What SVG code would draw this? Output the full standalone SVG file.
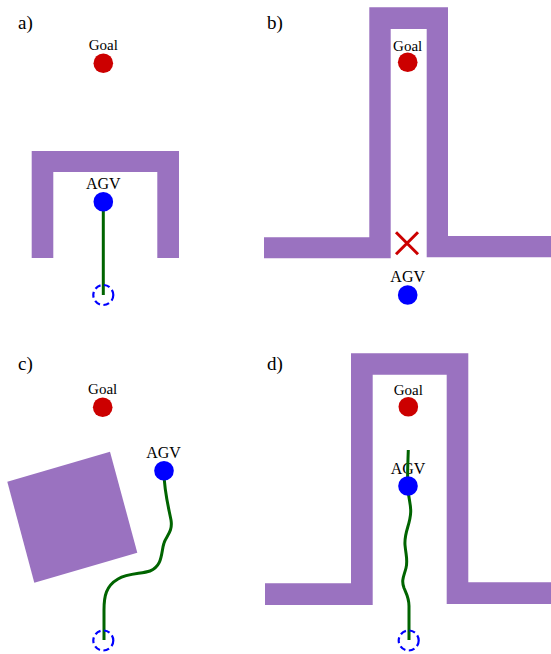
<svg xmlns="http://www.w3.org/2000/svg" width="551" height="654" viewBox="0 0 551 654">
<style>
.wall{fill:#9a72c0;stroke:none}
.goal{fill:#cc0000}
.agv{fill:#0000ff}
.start{fill:none;stroke:#0000ff;stroke-width:2.2;stroke-dasharray:6,3.5}
.path{fill:none;stroke:#006400;stroke-width:3;stroke-linecap:butt}
.lbl{font-family:"Liberation Serif","Times New Roman",serif;fill:#000;text-anchor:middle}
.panel{font-family:"Liberation Serif","Times New Roman",serif;fill:#000;font-size:19px}
.cross{stroke:#cc0000;stroke-width:3;fill:none}
</style>
<rect width="551" height="654" fill="#fff"/>

<!-- Panel a -->
<g id="panel-a">
<text class="panel" x="18" y="29">a)</text>
<polygon id="wall-a" class="wall" points="31.7,151 179,151 179,258 157.3,258 157.3,172 53.3,172 53.3,258 31.7,258"/>
<g id="goal-a"><text class="lbl" x="103.3" y="50" font-size="15">Goal</text><circle class="goal" cx="103.3" cy="63.3" r="9.8"/></g>
<g id="connectors-a"><path class="path" d="M103.3,202 L103.3,295"/></g>
<g id="agv-a"><text class="lbl" x="103.3" y="189" font-size="16">AGV</text><circle class="agv" cx="103.3" cy="201.7" r="9.8"/></g>
<g id="start-a"><circle class="start" cx="103.3" cy="295" r="10"/></g>
</g>

<!-- Panel b -->
<g id="panel-b">
<text class="panel" x="267" y="29">b)</text>
<polygon id="wall-b" class="wall" points="264,237.3 369.3,237.3 369.3,7.3 448,7.3 448,236 551,236 551,257.3 426.7,257.3 426.7,29 390.7,29 390.7,258.3 264,258.3"/>
<g id="goal-b"><text class="lbl" x="407.7" y="50.5" font-size="15">Goal</text><circle class="goal" cx="407.7" cy="62.3" r="9.8"/></g>
<g id="cross-b"><path class="cross" d="M396,232.3 L418,254.3 M418,232.3 L396,254.3"/></g>
<g id="agv-b"><text class="lbl" x="407.7" y="281.7" font-size="16">AGV</text><circle class="agv" cx="407.7" cy="295" r="9.8"/></g>
</g>

<!-- Panel c -->
<g id="panel-c">
<text class="panel" x="18" y="369.5">c)</text>
<polygon id="wall-c" class="wall" points="7.3,481.7 110,451.7 137.3,552.7 34.3,582.7"/>
<g id="goal-c"><text class="lbl" x="102.7" y="394.3" font-size="15">Goal</text><circle class="goal" cx="102.7" cy="407.3" r="9.8"/></g>
<g id="connectors-c"><path class="path" d="M164,472 C164,490 168,505 171,520 C173,532 166,536 164,543 C161,552 163,566 150,571 C142,574 128,573 118,579 C106,586 104,596 104,610 L104,640"/></g>
<g id="agv-c"><text class="lbl" x="163.5" y="457.7" font-size="16">AGV</text><circle class="agv" cx="164" cy="470.7" r="9.8"/></g>
<g id="start-c"><circle class="start" cx="103.3" cy="640.5" r="10"/></g>
</g>

<!-- Panel d -->
<g id="panel-d">
<text class="panel" x="267" y="369.5">d)</text>
<polygon id="wall-d" class="wall" points="265,583.3 351,583.3 351,353.3 468.3,353.3 468.3,582.3 551,582.3 551,604 446.7,604 446.7,374.7 372.7,374.7 372.7,605 265,605"/>
<g id="goal-d"><text class="lbl" x="408.3" y="395" font-size="15">Goal</text><circle class="goal" cx="408.3" cy="406.7" r="9.8"/></g>
<g id="agv-d-label"><text class="lbl" x="408" y="474" font-size="16">AGV</text></g>
<g id="connectors-d"><path class="path" d="M408.3,450 C408,462 407,475 408,490 C409,500 411,505 410.7,512 C410.3,525 404,532 405,545 C406,556 408,560 406,568 C404,576 401,580 404,588 C407,595 409,598 409,606 L409,640"/></g>
<g id="agv-d"><circle class="agv" cx="408" cy="486" r="9.8"/></g>
<g id="start-d"><circle class="start" cx="408.7" cy="640.5" r="10"/></g>
</g>
</svg>
